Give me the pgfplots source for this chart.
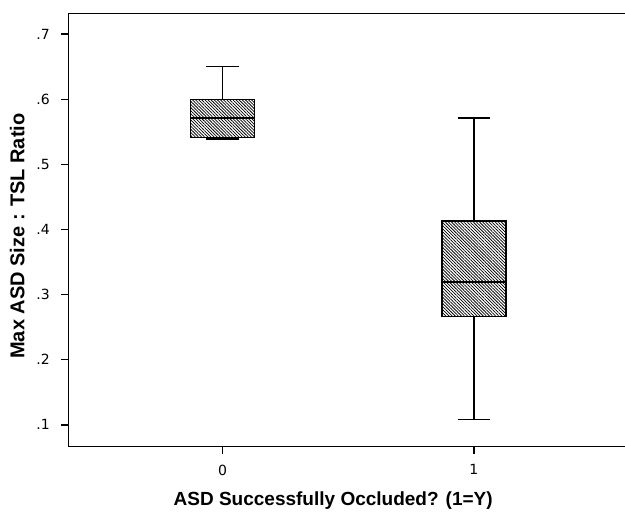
\documentclass[border=0pt]{standalone}
\usepackage{fontspec}
\setmainfont{Liberation Sans}
\newfontfamily\tickfont{DejaVu Sans}
\usepackage{pgfplots}
\pgfplotsset{compat=1.18}
\usetikzlibrary{patterns.meta}
\tikzset{hatch/.style={pattern={Lines[angle=-45,distance=2.2pt,line width=0.75pt]}}}
\begin{document}
\begin{tikzpicture}
\begin{axis}[
  name=ax,
  scale only axis,
  width=559.7pt, height=433.4pt,
  xmin=-0.614, xmax=1.613,
  ymin=0.0665, ymax=0.732,
  axis line style={line width=1.3pt},
  xtick={0,1}, xticklabels={0,1},
  ytick={0.1,0.2,0.3,0.4,0.5,0.6,0.7},
  yticklabels={.1,.2,.3,.4,.5,.6,.7},
  xtick pos=left, ytick pos=left,
  tick align=outside, major tick length=7pt,
  major tick style={line width=1.3pt, black},
  ticklabel style={font=\tickfont\fontsize{14}{14}\selectfont},
  xticklabel style={yshift=-7.5pt},
  yticklabel style={xshift=-8pt},
  xlabel={ASD Successfully Occluded? (1=Y)},
  ylabel={Max ASD Size : TSL Ratio},
  xlabel style={font=\bfseries\fontsize{19}{19}\selectfont, at={([yshift=-58.3pt]axis description cs:0.4733,0)}, anchor=base},
  ylabel style={font=\bfseries\fontsize{20}{20}\selectfont, at={([xshift=-43.8pt]axis description cs:0,0.486)}, anchor=base},
  clip=false
]
% group 0: lower whisker .539, Q1 .541, median .571, Q3 .600, upper whisker .650
\addplot[draw=black, line width=1.3pt, mark=none, hatch]
  coordinates {(-0.1275,0.541) (0.1275,0.541) (0.1275,0.600) (-0.1275,0.600)} -- cycle;
\addplot[black, line width=2.3pt, mark=none] coordinates {(-0.1275,0.571) (0.1275,0.571)};
\addplot[black, line width=1.3pt, mark=none] coordinates {(0,0.600) (0,0.650)};
\addplot[black, line width=1.3pt, mark=none] coordinates {(-0.065,0.650) (0.065,0.650)};
\addplot[black, line width=1.3pt, mark=none] coordinates {(-0.065,0.539) (0.065,0.539)};
% group 1: lower whisker .108, Q1 .266, median .319, Q3 .413, upper whisker .571
\addplot[draw=black, line width=1.3pt, mark=none, hatch]
  coordinates {(0.8725,0.266) (1.1275,0.266) (1.1275,0.413) (0.8725,0.413)} -- cycle;
\addplot[black, line width=2.3pt, mark=none] coordinates {(0.8725,0.319) (1.1275,0.319)};
\addplot[black, line width=1.3pt, mark=none] coordinates {(1,0.413) (1,0.571)};
\addplot[black, line width=1.3pt, mark=none] coordinates {(0.935,0.571) (1.065,0.571)};
\addplot[black, line width=1.3pt, mark=none] coordinates {(1,0.266) (1,0.108)};
\addplot[black, line width=1.3pt, mark=none] coordinates {(0.935,0.108) (1.065,0.108)};
\end{axis}
\pgfresetboundingbox
\path ([xshift=-68.3pt,yshift=-64.3pt]ax.south west) rectangle ([xshift=-3pt,yshift=13.3pt]ax.north east);
\end{tikzpicture}
\end{document}
